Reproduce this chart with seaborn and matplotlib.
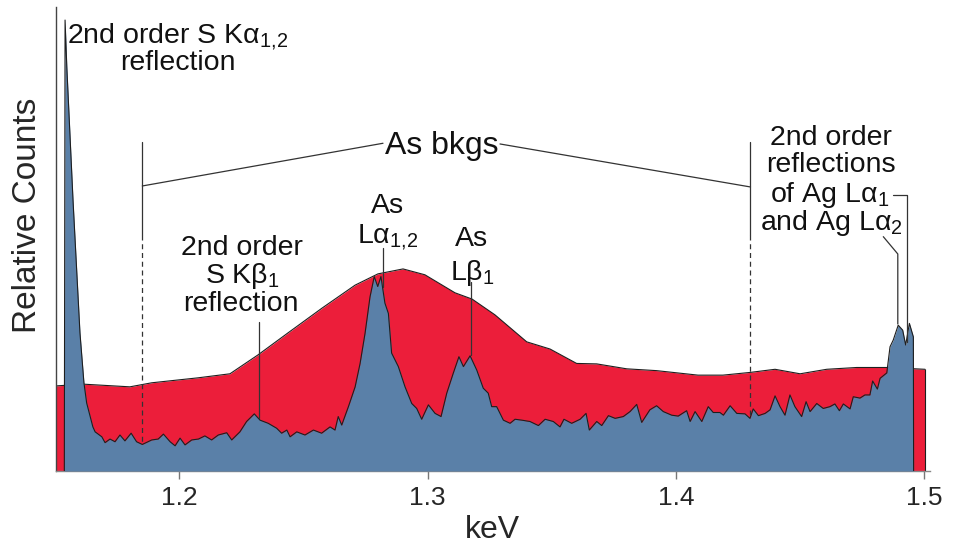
import matplotlib
matplotlib.use("Agg")
import matplotlib.pyplot as plt
import seaborn as sns
import pandas as pd

# ---------------- data ----------------
# Arsenic background (red) spectrum: energy (keV) and relative counts
bkg_kev = [1.1502, 1.1613, 1.1801, 1.1889, 1.2075, 1.2204, 1.2317, 1.2438, 1.2575, 1.2708,
           1.2800, 1.2901, 1.2989, 1.3110, 1.3179, 1.3271, 1.3399, 1.3493, 1.3600, 1.3681,
           1.3802, 1.3922, 1.4089, 1.4189, 1.4298, 1.4399, 1.4500, 1.4607, 1.4728, 1.4849,
           1.5003]
bkg_counts = [18.9, 19.3, 18.7, 19.6, 20.7, 21.6, 25.8, 30.7, 36.2, 41.3,
              43.8, 44.9, 43.6, 39.6, 38.2, 34.7, 28.7, 27.1, 23.9, 23.8,
              22.7, 22.3, 21.3, 21.3, 21.9, 22.6, 21.6, 22.6, 23.0, 23.0,
              22.6]

# Measured (blue) spectrum: energy (keV) and relative counts
spec_kev = [1.1537, 1.1540, 1.1547, 1.1572, 1.1600, 1.1616, 1.1627, 1.1652, 1.1661, 1.1688,
            1.1701, 1.1721, 1.1741, 1.1761, 1.1781, 1.1806, 1.1828, 1.1851, 1.1889, 1.1915,
            1.1936, 1.1963, 1.1983, 1.2003, 1.2023, 1.2050, 1.2077, 1.2103, 1.2130, 1.2157,
            1.2191, 1.2211, 1.2244, 1.2271, 1.2302, 1.2325, 1.2358, 1.2392, 1.2412, 1.2433,
            1.2446, 1.2473, 1.2506, 1.2540, 1.2573, 1.2607, 1.2627, 1.2640, 1.2654, 1.2681,
            1.2708, 1.2728, 1.2748, 1.2768, 1.2785, 1.2799, 1.2812, 1.2828, 1.2842, 1.2855,
            1.2882, 1.2909, 1.2936, 1.2956, 1.2976, 1.3003, 1.3030, 1.3054, 1.3077, 1.3103,
            1.3126, 1.3144, 1.3171, 1.3198, 1.3224, 1.3244, 1.3258, 1.3278, 1.3305, 1.3332,
            1.3352, 1.3379, 1.3412, 1.3446, 1.3473, 1.3506, 1.3533, 1.3549, 1.3580, 1.3614,
            1.3638, 1.3651, 1.3681, 1.3701, 1.3728, 1.3755, 1.3788, 1.3815, 1.3842, 1.3862,
            1.3895, 1.3922, 1.3949, 1.3983, 1.4009, 1.4043, 1.4057, 1.4077, 1.4104, 1.4130,
            1.4150, 1.4177, 1.4191, 1.4218, 1.4245, 1.4278, 1.4298, 1.4311, 1.4332, 1.4359,
            1.4379, 1.4399, 1.4419, 1.4439, 1.4459, 1.4479, 1.4506, 1.4524, 1.4540, 1.4567,
            1.4593, 1.4620, 1.4640, 1.4658, 1.4674, 1.4701, 1.4714, 1.4741, 1.4761, 1.4781,
            1.4792, 1.4811, 1.4822, 1.4849, 1.4862, 1.4875, 1.4895, 1.4913, 1.4925, 1.4940,
            1.4956, 1.4957]
spec_counts = [0.0, 100.2, 89.8, 60.2, 30.7, 19.6, 15.1, 9.8, 8.7, 7.6,
               6.3, 7.1, 6.5, 8.0, 6.7, 8.4, 6.5, 5.9, 6.9, 7.1,
               8.2, 6.5, 5.6, 7.3, 5.8, 6.9, 7.1, 7.8, 6.9, 8.0,
               8.5, 6.9, 8.7, 11.0, 12.7, 11.3, 10.6, 9.5, 8.4, 9.1,
               7.6, 8.7, 8.0, 9.1, 8.4, 9.8, 9.1, 12.1, 10.2, 14.3,
               18.7, 23.9, 30.6, 38.7, 43.2, 41.0, 43.2, 37.3, 35.0, 26.2,
               23.2, 18.7, 15.0, 13.9, 11.5, 14.7, 12.8, 12.1, 17.3, 21.7,
               25.4, 23.2, 25.6, 22.4, 18.4, 17.3, 14.3, 14.3, 11.3, 10.6,
               11.5, 11.3, 11.0, 10.1, 11.5, 11.0, 9.8, 11.5, 10.6, 11.5,
               12.8, 9.1, 11.0, 10.1, 12.3, 11.7, 12.1, 13.2, 14.8, 10.8,
               13.6, 14.5, 13.2, 12.4, 12.2, 13.4, 11.0, 13.2, 11.0, 14.3,
               13.0, 13.0, 12.4, 14.5, 12.8, 12.7, 11.7, 13.8, 12.3, 12.8,
               13.6, 16.7, 14.3, 12.4, 16.9, 14.3, 12.1, 15.4, 13.2, 15.0,
               13.9, 14.3, 14.9, 13.4, 14.9, 13.8, 16.5, 16.2, 16.9, 16.9,
               20.0, 18.2, 20.6, 21.8, 27.6, 29.1, 32.4, 31.3, 28.0, 32.8,
               29.8, 0.0]

tick_values = [1.2, 1.3, 1.4, 1.5]
tick_labels = ["1.2", "1.3", "1.4", "1.5"]

# ---------------- style ----------------
sns.set_theme(style="white")
plt.rcParams["font.family"] = ["Liberation Sans", "DejaVu Sans"]
plt.rcParams["mathtext.fontset"] = "custom"
plt.rcParams["mathtext.rm"] = "Liberation Sans"
plt.rcParams["mathtext.it"] = "Liberation Sans:italic"
plt.rcParams["mathtext.bf"] = "Liberation Sans:bold"

RED = "#EC1E3A"
BLUE = "#5A80A8"
EDGE = "#1e1e1e"
LINE = "#333333"

W, H = 955, 546
fig = plt.figure(figsize=(W / 100, H / 100), dpi=100)
ax = fig.add_axes([55.7 / W, 1 - 471 / H, (930 - 55.7) / W, (471 - 7) / H])

bkg = pd.DataFrame({"keV": bkg_kev, "counts": bkg_counts})
spec = pd.DataFrame({"keV": spec_kev, "counts": spec_counts})

ax.fill_between(bkg["keV"], 0, bkg["counts"], color=RED, linewidth=0, zorder=1)
sns.lineplot(data=bkg, x="keV", y="counts", ax=ax, color=EDGE, lw=0.8,
             sort=False, estimator=None, zorder=2)
ax.vlines(bkg["keV"].iloc[-1], 0, bkg["counts"].iloc[-1], color=EDGE, lw=0.8, zorder=2)

ax.fill_between(spec["keV"], 0, spec["counts"], color=BLUE, linewidth=0, zorder=3)
sns.lineplot(data=spec, x="keV", y="counts", ax=ax, color=EDGE, lw=0.8,
             sort=False, estimator=None, zorder=4)

ax.set_xlim(1.15023, 1.5023)
ax.set_ylim(0, 103.1)

# axes styling
for s in ["top", "right"]:
    ax.spines[s].set_visible(False)
ax.spines["left"].set_color("#444444")
ax.spines["left"].set_linewidth(1.0)
ax.spines["bottom"].set_color("#888888")
ax.spines["bottom"].set_linewidth(1.0)
ax.set_yticks([])
ax.set_xticks(tick_values)
ax.set_xticklabels(tick_labels)
ax.tick_params(axis="x", direction="out", length=6, width=1, color="#777777",
               labelsize=19, pad=5, bottom=True)

ax.set_xlabel("keV", fontsize=23)
ax.xaxis.label.set_va("baseline")
ax.xaxis.set_label_coords(0.5, (471 - 538) / 464)
ax.set_ylabel("Relative Counts", fontsize=24)
ax.yaxis.label.set_va("center")
ax.yaxis.set_label_coords((28 - 55.7) / 874.3, (471 - 215) / 464)


# ---------------- annotations (layout positions) ----------------
def X(px):
    return 1.2 + (px - 179.3) / 2483.3


def Y(py):
    return (471 - py) / 4.5


def ftext(px, py, s, size=20.5):
    fig.text(px / W, 1 - py / H, s, ha="center", va="baseline", fontsize=size, color="#111111")


def seg(xs, ys, ls="-", lw=0.9, color=LINE):
    ax.plot([X(v) for v in xs], [Y(v) for v in ys], ls=ls, lw=lw, color=color,
             zorder=6, clip_on=False)


# As bkgs bracket with dashed drop lines
seg([142.3, 142.3], [142.5, 235])
seg([142.3, 142.3], [235, 443.5], ls=(0, (4, 3)))
seg([750.5, 750.5], [142.5, 235])
seg([750.5, 750.5], [235, 417.5], ls=(0, (4, 3)))
seg([142.3, 383], [186, 143.3])
seg([500, 750.5], [144, 187])
ftext(441.5, 154, "As bkgs", size=23)

# 2nd order S Ka
ftext(178, 43.5, "2nd order S Kα$_{1{,}2}$")
ftext(178, 70.5, "reflection")

# 2nd order S Kb1
ftext(242, 255, "2nd order")
ftext(242, 283, "S Kβ$_1$")
ftext(241, 311, "reflection")
seg([259, 259], [322, 418])

# As La1,2
ftext(387.5, 213.5, "As")
ftext(387.5, 242.5, "Lα$_{1{,}2}$")
seg([382.8, 382.8], [248, 287])

# As Lb1
ftext(471, 246.5, "As")
ftext(472, 279.5, "Lβ$_1$")
seg([470.7, 470.7], [282, 355])

# Ag La1 / La2
ftext(830.5, 145, "2nd order")
ftext(831, 172.5, "reflections")
ftext(830, 202.5, "of Ag Lα$_1$")
ftext(831, 230, "and Ag Lα$_2$")
seg([892.7, 906.7, 906.7], [195, 195, 342])
seg([883.3, 897.8, 897.8], [236.7, 254, 324])

fig.savefig("out.png", dpi=100)
